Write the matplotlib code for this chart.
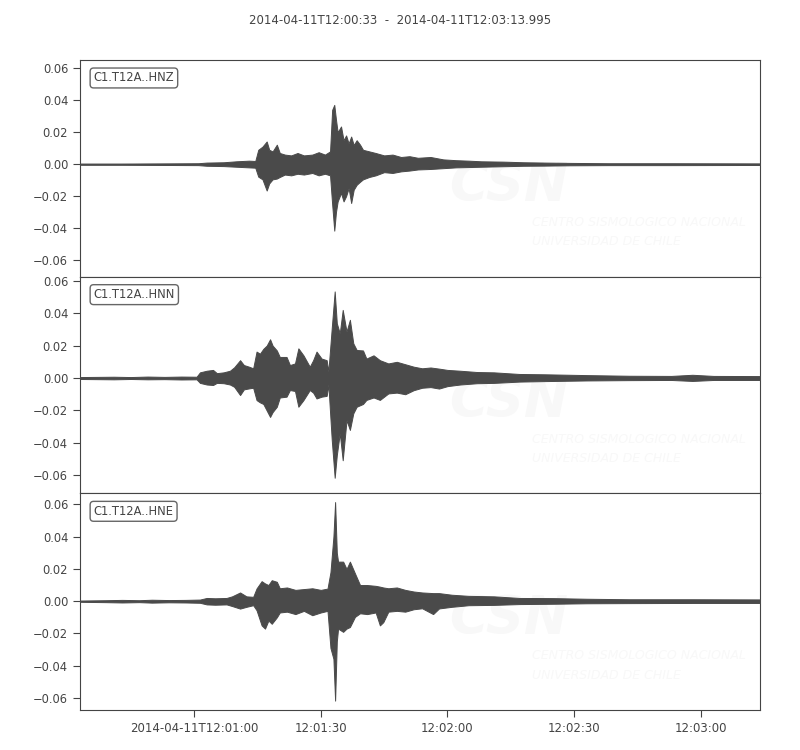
import datetime as dt
import matplotlib
matplotlib.use("Agg")
import matplotlib.pyplot as plt
import matplotlib.dates as mdates
import numpy as np

# ---------------- data ----------------
start_time = dt.datetime(2014, 4, 11, 12, 0, 33)
duration_s = 160.995
title_text = "2014-04-11T12:00:33  -  2014-04-11T12:03:13.995"

channels = ["C1.T12A..HNZ", "C1.T12A..HNN", "C1.T12A..HNE"]

# envelope of each trace: time offset (s), upper and lower amplitude
hnz_t = [0, 10, 20, 28, 30, 34, 37, 40, 41.5, 42.2, 43.2, 44.2, 44.8, 45.6, 46.6, 47.3,
         48.5, 50, 51.5, 53, 55, 56.5, 58, 59.2, 59.7, 60.2, 60.6, 61.0, 61.8, 62.4, 63.0,
         63.6, 64.2, 64.8, 65.5, 66.3, 67.0, 68.5, 70, 72, 74, 76, 78, 80, 83, 86, 89, 92,
         95, 100, 105, 110, 116, 125, 140, 161]
hnz_up = [0.0004, 0.0004, 0.0005, 0.0006, 0.0010, 0.0012, 0.0018, 0.0022, 0.0020, 0.0090,
          0.0110, 0.0142, 0.0090, 0.0080, 0.0122, 0.0070, 0.0060, 0.0055, 0.0070, 0.0055,
          0.0060, 0.0075, 0.0060, 0.0080, 0.0340, 0.0371, 0.0280, 0.0200, 0.0236, 0.0150,
          0.0180, 0.0130, 0.0173, 0.0120, 0.0150, 0.0122, 0.0090, 0.0080, 0.0070, 0.0055,
          0.0060, 0.0045, 0.0050, 0.0040, 0.0045, 0.0030, 0.0025, 0.0022, 0.0018, 0.0016,
          0.0012, 0.0010, 0.0008, 0.0006, 0.0006, 0.0005]
hnz_lo = [-0.0004, -0.0004, -0.0005, -0.0006, -0.0010, -0.0012, -0.0016, -0.0020, -0.0022,
          -0.0078, -0.0095, -0.0165, -0.0120, -0.0095, -0.0090, -0.0080, -0.0065, -0.0070,
          -0.0060, -0.0065, -0.0055, -0.0070, -0.0060, -0.0070, -0.0250, -0.0416, -0.0300,
          -0.0233, -0.0180, -0.0233, -0.0200, -0.0150, -0.0243, -0.0160, -0.0129, -0.0110,
          -0.0095, -0.0080, -0.0070, -0.0050, -0.0055, -0.0045, -0.0040, -0.0033, -0.0030,
          -0.0025, -0.0020, -0.0018, -0.0016, -0.0013, -0.0010, -0.0009, -0.0007, -0.0006,
          -0.0006, -0.0005]

hnn_t = [0, 8, 12, 16, 20, 24, 27.6, 28.4, 30, 31.5, 32.4, 34, 35.5, 36.5, 37.9, 38.8, 40,
         41, 41.8, 42.6, 43.4, 44.2, 45.0, 45.6, 46.6, 47.3, 48.9, 49.7, 50.9, 51.7, 52.9,
         54.4, 55.2, 56.0, 57.2, 58.4, 58.8, 59.6, 60.3, 60.8, 61.5, 62.2, 63.1, 63.9, 64.7,
         65.5, 67, 67.8, 69.5, 71, 73, 75, 77, 79, 81, 83, 85, 87, 90, 94, 98, 104, 110,
         120, 130, 140, 145, 150, 161]
hnn_up = [0.0006, 0.0008, 0.0006, 0.0009, 0.0007, 0.0009, 0.0008, 0.0035, 0.0045, 0.0050,
          0.0030, 0.0035, 0.0045, 0.0066, 0.0110, 0.0080, 0.0070, 0.0060, 0.0163, 0.0150,
          0.0180, 0.0200, 0.0239, 0.0200, 0.0170, 0.0130, 0.0130, 0.0080, 0.0090, 0.0183,
          0.0140, 0.0070, 0.0110, 0.0163, 0.0120, 0.0110, 0.0040, 0.0307, 0.0534, 0.0338,
          0.0276, 0.0420, 0.0287, 0.0359, 0.0214, 0.0173, 0.0170, 0.0120, 0.0140, 0.0110,
          0.0090, 0.0100, 0.0085, 0.0070, 0.0060, 0.0065, 0.0058, 0.0050, 0.0045, 0.0037,
          0.0035, 0.0025, 0.0023, 0.0018, 0.0014, 0.0013, 0.0020, 0.0013, 0.0012]
hnn_lo = [-0.0006, -0.0008, -0.0006, -0.0008, -0.0007, -0.0009, -0.0008, -0.0030, -0.0040,
          -0.0043, -0.0030, -0.0032, -0.0040, -0.0054, -0.0105, -0.0070, -0.0064, -0.0060,
          -0.0136, -0.0150, -0.0160, -0.0200, -0.0240, -0.0210, -0.0177, -0.0120, -0.0115,
          -0.0074, -0.0080, -0.0177, -0.0136, -0.0074, -0.0090, -0.0126, -0.0115, -0.0110,
          -0.0040, -0.0380, -0.0615, -0.0476, -0.0340, -0.0507, -0.0260, -0.0320, -0.0218,
          -0.0177, -0.0160, -0.0135, -0.0120, -0.0135, -0.0095, -0.0090, -0.0100, -0.0075,
          -0.0060, -0.0056, -0.0065, -0.0050, -0.0040, -0.0032, -0.0030, -0.0022, -0.0019,
          -0.0015, -0.0013, -0.0012, -0.0018, -0.0012, -0.0012]

hne_t = [0, 6, 10, 14, 17, 21, 25, 28.4, 30, 32, 34.7, 36, 37.9, 39.4, 41.0, 41.8, 43.0,
         43.8, 44.6, 45.4, 46.6, 47.3, 49, 51, 53, 55, 57, 58.6, 59.3, 60.0, 60.4, 60.8,
         61.1, 62.3, 63.1, 63.9, 65.1, 66.3, 68, 70, 71, 71.8, 73, 75, 77, 79, 81, 83.6,
         85, 88, 92, 98, 104, 112, 120, 130, 145, 161]
hne_up = [0.0004, 0.0006, 0.0008, 0.0006, 0.0009, 0.0007, 0.0008, 0.0010, 0.0020, 0.0018,
          0.0020, 0.0030, 0.0054, 0.0030, 0.0027, 0.0079, 0.0124, 0.0110, 0.0100, 0.0130,
          0.0120, 0.0080, 0.0085, 0.0070, 0.0075, 0.0080, 0.0070, 0.0078, 0.0180, 0.0400,
          0.0614, 0.0300, 0.0245, 0.0245, 0.0200, 0.0245, 0.0172, 0.0100, 0.0100, 0.0095,
          0.0090, 0.0085, 0.0080, 0.0085, 0.0070, 0.0060, 0.0054, 0.0050, 0.0050, 0.0040,
          0.0033, 0.0030, 0.0020, 0.0019, 0.0015, 0.0012, 0.0012, 0.0011]
hne_lo = [-0.0004, -0.0006, -0.0008, -0.0006, -0.0009, -0.0007, -0.0008, -0.0010, -0.0020,
          -0.0022, -0.0020, -0.0030, -0.0046, -0.0035, -0.0025, -0.0056, -0.0150, -0.0170,
          -0.0120, -0.0140, -0.0100, -0.0070, -0.0065, -0.0080, -0.0060, -0.0087, -0.0070,
          -0.0060, -0.0290, -0.0357, -0.0616, -0.0250, -0.0170, -0.0190, -0.0170, -0.0160,
          -0.0097, -0.0075, -0.0080, -0.0070, -0.0150, -0.0130, -0.0065, -0.0060, -0.0065,
          -0.0050, -0.0044, -0.0080, -0.0045, -0.0035, -0.0025, -0.0023, -0.0018, -0.0016,
          -0.0013, -0.0012, -0.0011, -0.0011]

times = [hnz_t, hnn_t, hne_t]
uppers = [hnz_up, hnn_up, hne_up]
lowers = [hnz_lo, hnn_lo, hne_lo]
ylims = [(-0.0704, 0.0652), (-0.0711, 0.0625), (-0.0674, 0.0668)]

yticks = [-0.06, -0.04, -0.02, 0.00, 0.02, 0.04, 0.06]
xtick_times = [dt.datetime(2014, 4, 11, 12, 1, 0), dt.datetime(2014, 4, 11, 12, 1, 30),
               dt.datetime(2014, 4, 11, 12, 2, 0), dt.datetime(2014, 4, 11, 12, 2, 30),
               dt.datetime(2014, 4, 11, 12, 3, 0)]
xtick_labels = ["2014-04-11T12:01:00", "12:01:30", "12:02:00", "12:02:30", "12:03:00"]

# ---------------- drawing ----------------
TXT = "#444444"
TRACE = "#4a4a4a"
WM = "#f8f8f8"
plt.rcParams["font.family"] = ["DejaVu Sans"]
plt.rcParams["font.size"] = 8

fig = plt.figure(figsize=(8, 7.5), dpi=100)
axes = fig.subplots(3, 1, sharex=True,
                    gridspec_kw=dict(left=0.1, right=0.95, top=0.92,
                                     bottom=1 - 710 / 750, hspace=0))

t0 = mdates.date2num(start_time)
for ax, ch, t, up, lo, yl in zip(axes, channels, times, uppers, lowers, ylims):
    x = t0 + np.asarray(t) / 86400.0
    ax.fill_between(x, lo, up, color=TRACE, lw=0.7, edgecolor=TRACE, zorder=3)
    ax.set_ylim(*yl)
    ax.set_yticks(yticks)
    ax.tick_params(axis="y", colors=TXT, labelsize=8.3, length=5)
    for sp in ax.spines.values():
        sp.set_color(TXT)
    ax.text(0.02, 0.947, ch, transform=ax.transAxes, va="top", ha="left",
            color=TXT, fontsize=8.3, zorder=5,
            bbox=dict(boxstyle="round,pad=0.3", fc="white", ec="#666666", lw=1))
    # faint watermark
    ax.text(0.63, 0.42, "CSN", transform=ax.transAxes, ha="center", va="center",
            fontsize=38, fontweight="bold", fontstyle="italic", color=WM, zorder=1,
            clip_on=True)
    ax.text(0.665, 0.25, "CENTRO SISMOLOGICO NACIONAL", transform=ax.transAxes,
            ha="left", va="center", fontsize=9, fontstyle="italic",
            color=WM, zorder=1, clip_on=True)
    ax.text(0.665, 0.16, "UNIVERSIDAD DE CHILE", transform=ax.transAxes,
            ha="left", va="center", fontsize=9, fontstyle="italic",
            color=WM, zorder=1, clip_on=True)

axes[0].set_xlim(t0, t0 + duration_s / 86400.0)
axes[-1].set_xticks([mdates.date2num(d) for d in xtick_times])
axes[-1].set_xticklabels(xtick_labels)
axes[-1].tick_params(axis="x", colors=TXT, labelsize=8.5, length=5)
for ax in axes[:-1]:
    ax.tick_params(axis="x", bottom=False, labelbottom=False)

fig.suptitle(title_text, y=0.982, fontsize=8.5, color=TXT)
fig.savefig("out.png", dpi=100, facecolor="white")
